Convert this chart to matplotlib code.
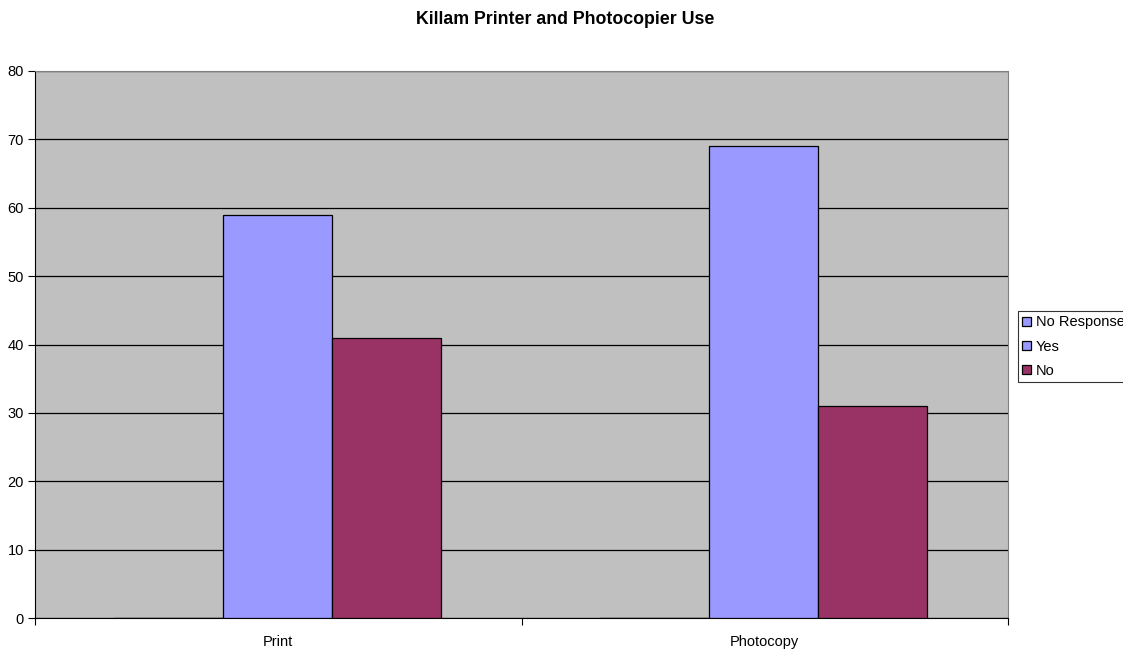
import numpy as np
import matplotlib
matplotlib.use("Agg")
import matplotlib.pyplot as plt

plt.rcParams["font.family"] = ["Liberation Sans", "DejaVu Sans"]

# Survey results
categories = ["Print", "Photocopy"]
series = ["No Response", "Yes", "No"]
no_response = [0, 0]
yes = [59, 69]
no = [41, 31]
colors = ["#9999FF", "#9999FF", "#993366"]

fig = plt.figure(figsize=(11.23, 6.49), dpi=100)
ax = fig.add_axes([35 / 1123, 31 / 649, 973 / 1123, 547 / 649])
ax.set_facecolor("#C0C0C0")

x = np.arange(len(categories))
width = 109 / 486
handles = []
for i, (name, vals) in enumerate(zip(series, [no_response, yes, no])):
    h = ax.bar(x + (i - 1) * width - 0.002, vals, width, color=colors[i],
               edgecolor="black", linewidth=0.9, label=name, zorder=3)
    handles.append(h)

ax.set_xlim(-0.5, 1.5)
ax.set_ylim(0, 80)
ax.set_yticks(range(0, 81, 10))
ax.yaxis.grid(True, color="black", linewidth=0.9, zorder=1)
ax.set_axisbelow(True)

# category labels between the boundary ticks
ax.set_xticks([-0.5, 0.5, 1.5])
ax.set_xticklabels([])
ax.set_xticks(x, minor=True)
ax.set_xticklabels(categories, minor=True)
ax.tick_params(axis="x", which="minor", length=0, pad=12, labelsize=10.5)
ax.tick_params(axis="x", which="major", length=5, direction="out")
ax.tick_params(axis="y", length=5, direction="out", labelsize=10.5, pad=3)

for side in ["top", "right"]:
    ax.spines[side].set_color("#808080")
ax.spines["left"].set_color("black")
ax.spines["bottom"].set_color("black")

fig.text(565 / 1123, 1 - 19 / 649, "Killam Printer and Photocopier Use",
         ha="center", va="center", fontsize=12.8, fontweight="bold")

leg = fig.legend(handles=handles, loc="upper left",
                 bbox_to_anchor=(1018 / 1123, 1 - 311 / 649),
                 fontsize=10.5, frameon=True, fancybox=False,
                 handlelength=0.6, handleheight=0.6, handletextpad=0.3,
                 borderpad=0.3, labelspacing=0.7, borderaxespad=0)
leg.get_frame().set_edgecolor("black")
leg.get_frame().set_linewidth(0.8)

fig.savefig("out.png", dpi=100)
